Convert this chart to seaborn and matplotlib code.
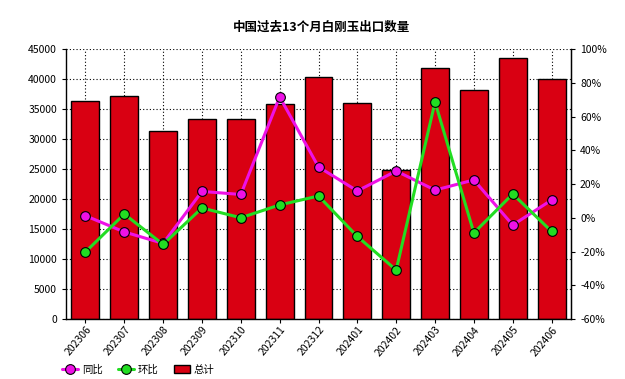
import numpy as np
import pandas as pd
import matplotlib
matplotlib.use("Agg")
import matplotlib.pyplot as plt
import seaborn as sns
from matplotlib.ticker import FuncFormatter

months = ["202306", "202307", "202308", "202309", "202310", "202311", "202312",
          "202401", "202402", "202403", "202404", "202405", "202406"]
total = [36300, 37200, 31300, 33300, 33300, 35800, 40300,
         36000, 24800, 41800, 38200, 43500, 40000]
yoy = [1.2, -8.4, -15.2, 15.6, 13.8, 71.6, 30.1, 15.9, 27.7, 16.4, 22.4, -4.3, 10.5]
mom = [-20.3, 2.2, -15.8, 5.8, 0.0, 7.6, 12.9, -11.1, -31.0, 68.6, -9.0, 14.1, -8.1]

sns.set_style("white")
plt.rcParams['font.family'] = ['Noto Sans CJK SC', 'DejaVu Sans']
plt.rcParams['text.color'] = "black"
plt.rcParams['xtick.color'] = "black"
plt.rcParams['ytick.color'] = "black"

df = pd.DataFrame({"month": months, "total": total, "yoy": yoy, "mom": mom,
                   "pos": np.arange(len(months))})

fig = plt.figure(figsize=(6.25, 3.79), dpi=100)
ax = fig.add_axes([0.1056, 0.1583, 0.808, 0.7124])

sns.barplot(data=df, x="month", y="total", color="#D90012", saturation=1,
            width=0.72, edgecolor="black", linewidth=1, ax=ax)
ax.set_xlim(-0.5, 12.5)
ax.set_ylim(0, 45000)
ax.set_yticks(range(0, 45001, 5000))
ax.set_axisbelow(True)
ax.grid(True, color="black", linestyle=(0, (1, 2)), linewidth=0.8)
ax.set_xlabel("")
ax.set_ylabel("")
ax.tick_params(axis="both", labelsize=7.5, length=3, color="black", direction="out")
ax.tick_params(axis="x", pad=1)
plt.setp(ax.get_xticklabels(), rotation=50, ha="right", rotation_mode="anchor")
for s in ["left", "bottom", "right"]:
    ax.spines[s].set_color("black")
    ax.spines[s].set_linewidth(1)
ax.spines["top"].set_visible(False)
ax.tick_params(axis="y", left=True)
ax.tick_params(axis="x", bottom=True)

ax2 = ax.twinx()
sns.lineplot(data=df, x="pos", y="yoy", color="#EE11E6", linewidth=2.2,
             marker="o", markersize=7, markeredgecolor="black", markeredgewidth=0.8,
             markerfacecolor="#EE11E6", ax=ax2, label="同比", legend=False)
sns.lineplot(data=df, x="pos", y="mom", color="#22DD22", linewidth=2.2,
             marker="o", markersize=7, markeredgecolor="black", markeredgewidth=0.8,
             markerfacecolor="#22DD22", ax=ax2, label="环比", legend=False)
ax2.set_xlim(-0.5, 12.5)
ax2.set_ylim(-60, 100)
ax2.set_yticks(range(-60, 101, 20))
ax2.yaxis.set_major_formatter(FuncFormatter(lambda v, p: f"{int(v)}%"))
ax2.set_xlabel("")
ax2.set_ylabel("")
ax2.tick_params(axis="y", labelsize=7.5, length=3, right=True, direction="out")
for s in ["top", "left", "bottom"]:
    ax2.spines[s].set_visible(False)
ax2.spines["right"].set_color("black")

fig.text(0.515, 0.928, "中国过去13个月白刚玉出口数量", ha="center", va="center",
         fontsize=9, fontweight="bold")

handles = [ax2.lines[0], ax2.lines[1],
           plt.Rectangle((0, 0), 1, 1, facecolor="#D90012", edgecolor="black")]
fig.legend(handles, ["同比", "环比", "总计"], loc="lower left", ncol=3,
           bbox_to_anchor=(0.094, 0.003), frameon=False, fontsize=7.5,
           borderpad=0.3, borderaxespad=0,
           handlelength=1.5, columnspacing=1.5, handletextpad=0.4)

fig.savefig("out.png", dpi=100)
